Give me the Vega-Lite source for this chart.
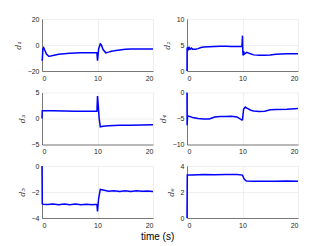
{
  "$schema": "https://vega.github.io/schema/vega-lite/v6.json",
  "padding": {"left": 14, "top": 15, "right": 3, "bottom": 5},
  "background": "white",
  "datasets": {
    "d": [
      {"s":1,"t":0,"v":-11},{"s":1,"t":0.05,"v":-12},{"s":1,"t":0.15,"v":-3},{"s":1,"t":0.3,"v":-2},{"s":1,"t":0.5,"v":-4},{"s":1,"t":0.8,"v":-7},{"s":1,"t":1.2,"v":-8.7},{"s":1,"t":1.6,"v":-8.5},{"s":1,"t":2,"v":-8},{"s":1,"t":3,"v":-7.2},{"s":1,"t":4,"v":-6.7},{"s":1,"t":5,"v":-6.3},{"s":1,"t":6,"v":-6.1},{"s":1,"t":7,"v":-6},{"s":1,"t":8,"v":-5.9},{"s":1,"t":9,"v":-5.9},{"s":1,"t":9.9,"v":-5.9},{"s":1,"t":10,"v":-12},{"s":1,"t":10.05,"v":-10},{"s":1,"t":10.2,"v":-3},{"s":1,"t":10.5,"v":0.8},{"s":1,"t":10.7,"v":0},{"s":1,"t":11,"v":-3.5},{"s":1,"t":11.5,"v":-6},{"s":1,"t":12,"v":-5.5},{"s":1,"t":12.5,"v":-4.8},{"s":1,"t":13,"v":-4.5},{"s":1,"t":14,"v":-3.8},{"s":1,"t":15,"v":-3.2},{"s":1,"t":16,"v":-3},{"s":1,"t":17,"v":-3},{"s":1,"t":18,"v":-3},{"s":1,"t":19,"v":-3},{"s":1,"t":20,"v":-3},
      {"s":2,"t":0,"v":0},{"s":2,"t":0.02,"v":4.5},{"s":2,"t":0.1,"v":3.8},{"s":2,"t":0.2,"v":4.6},{"s":2,"t":0.3,"v":4.0},{"s":2,"t":0.4,"v":4.5},{"s":2,"t":0.6,"v":4.2},{"s":2,"t":0.8,"v":4.4},{"s":2,"t":1,"v":4.2},{"s":2,"t":1.5,"v":4.2},{"s":2,"t":2,"v":4.3},{"s":2,"t":2.5,"v":4.5},{"s":2,"t":3,"v":4.6},{"s":2,"t":4,"v":4.65},{"s":2,"t":5,"v":4.7},{"s":2,"t":6,"v":4.75},{"s":2,"t":7,"v":4.75},{"s":2,"t":8,"v":4.7},{"s":2,"t":9,"v":4.7},{"s":2,"t":9.9,"v":4.7},{"s":2,"t":10,"v":6.8},{"s":2,"t":10.05,"v":4},{"s":2,"t":10.1,"v":3},{"s":2,"t":10.2,"v":3.8},{"s":2,"t":10.3,"v":3.2},{"s":2,"t":10.5,"v":3.4},{"s":2,"t":10.8,"v":3.6},{"s":2,"t":11.2,"v":3.4},{"s":2,"t":12,"v":3.1},{"s":2,"t":13,"v":3.05},{"s":2,"t":14,"v":3.05},{"s":2,"t":15,"v":3.1},{"s":2,"t":16,"v":3.2},{"s":2,"t":17,"v":3.25},{"s":2,"t":18,"v":3.3},{"s":2,"t":19,"v":3.3},{"s":2,"t":20,"v":3.3},
      {"s":3,"t":0,"v":0},{"s":3,"t":0.05,"v":1.5},{"s":3,"t":0.3,"v":1.5},{"s":3,"t":2,"v":1.5},{"s":3,"t":4,"v":1.45},{"s":3,"t":6,"v":1.4},{"s":3,"t":8,"v":1.4},{"s":3,"t":9.9,"v":1.4},{"s":3,"t":10,"v":4.3},{"s":3,"t":10.1,"v":3},{"s":3,"t":10.3,"v":0},{"s":3,"t":10.5,"v":-1.6},{"s":3,"t":11,"v":-1.5},{"s":3,"t":12,"v":-1.4},{"s":3,"t":14,"v":-1.3},{"s":3,"t":16,"v":-1.3},{"s":3,"t":18,"v":-1.25},{"s":3,"t":20,"v":-1.2},
      {"s":4,"t":0,"v":0},{"s":4,"t":0.02,"v":-6.3},{"s":4,"t":0.1,"v":-4.5},{"s":4,"t":0.5,"v":-4.6},{"s":4,"t":1,"v":-4.8},{"s":4,"t":2,"v":-5.0},{"s":4,"t":3,"v":-5.1},{"s":4,"t":4,"v":-5.1},{"s":4,"t":4.5,"v":-4.9},{"s":4,"t":5,"v":-4.7},{"s":4,"t":6,"v":-4.6},{"s":4,"t":7,"v":-4.6},{"s":4,"t":8,"v":-4.55},{"s":4,"t":9,"v":-4.7},{"s":4,"t":9.9,"v":-5.3},{"s":4,"t":10,"v":-5.2},{"s":4,"t":10.2,"v":-3.2},{"s":4,"t":10.5,"v":-2.8},{"s":4,"t":10.8,"v":-3.0},{"s":4,"t":11.5,"v":-3.4},{"s":4,"t":12,"v":-3.55},{"s":4,"t":13,"v":-3.65},{"s":4,"t":14,"v":-3.6},{"s":4,"t":15,"v":-3.3},{"s":4,"t":16,"v":-3.25},{"s":4,"t":18,"v":-3.2},{"s":4,"t":20,"v":-3.1},
      {"s":5,"t":0,"v":0},{"s":5,"t":0.05,"v":-2.9},{"s":5,"t":0.2,"v":-2.95},{"s":5,"t":1,"v":-2.97},{"s":5,"t":2,"v":-2.92},{"s":5,"t":3,"v":-2.98},{"s":5,"t":4,"v":-2.93},{"s":5,"t":5,"v":-2.98},{"s":5,"t":6,"v":-2.93},{"s":5,"t":7,"v":-2.98},{"s":5,"t":8,"v":-2.94},{"s":5,"t":9,"v":-2.98},{"s":5,"t":9.9,"v":-2.95},{"s":5,"t":10,"v":-3.5},{"s":5,"t":10.2,"v":-2.5},{"s":5,"t":10.5,"v":-1.8},{"s":5,"t":11,"v":-1.85},{"s":5,"t":12,"v":-1.95},{"s":5,"t":13,"v":-1.9},{"s":5,"t":14,"v":-1.97},{"s":5,"t":15,"v":-1.9},{"s":5,"t":16,"v":-1.97},{"s":5,"t":17,"v":-1.9},{"s":5,"t":18,"v":-1.95},{"s":5,"t":19,"v":-1.93},{"s":5,"t":20,"v":-1.97},
      {"s":6,"t":0,"v":0},{"s":6,"t":0.05,"v":3.3},{"s":6,"t":1,"v":3.3},{"s":6,"t":3,"v":3.35},{"s":6,"t":5,"v":3.33},{"s":6,"t":7,"v":3.35},{"s":6,"t":9,"v":3.35},{"s":6,"t":10,"v":3.3},{"s":6,"t":10.3,"v":3.0},{"s":6,"t":10.7,"v":2.85},{"s":6,"t":12,"v":2.82},{"s":6,"t":14,"v":2.83},{"s":6,"t":16,"v":2.82},{"s":6,"t":18,"v":2.85},{"s":6,"t":20,"v":2.83}
    ]
  },
  "data": {"name": "d"},
  "title": {"text": "time (s)", "orient": "bottom", "anchor": "middle", "fontSize": 10, "fontWeight": "normal", "font": "Liberation Sans", "color": "#000000", "offset": 4},
  "columns": 2,
  "bounds": "flush",
  "spacing": {"row": 21.5, "column": 34},
  "config": {
    "font": "Liberation Sans",
    "view": {"stroke": null},
    "axis": {
      "labelFontSize": 7, "labelColor": "#262626", "labelFont": "Liberation Sans",
      "domainColor": "#262626", "domainWidth": 0.6,
      "gridColor": "#e4e4e4", "gridWidth": 0.6,
      "ticks": false, "labelPadding": 3,
      "titleFontSize": 8, "titleFontStyle": "italic", "titleFontWeight": "normal",
      "titleColor": "#262626", "titlePadding": 5, "titleFont": "DejaVu Serif"
    },
    "line": {"color": "#0000ff", "strokeWidth": 1.5}
  },
  "concat": [
    {"width": 111, "height": 52, "transform": [{"filter": "datum.s == 1"}], "mark": {"type": "line"},
     "encoding": {"x": {"field": "t", "type": "quantitative", "scale": {"domain": [0, 20]}, "axis": {"values": [0, 10, 20], "title": null}},
                  "y": {"field": "v", "type": "quantitative", "scale": {"domain": [-20, 20]}, "axis": {"values": [-20, 0, 20], "title": "d₁"}}}},
    {"width": 111, "height": 52, "transform": [{"filter": "datum.s == 2"}], "mark": {"type": "line"},
     "encoding": {"x": {"field": "t", "type": "quantitative", "scale": {"domain": [0, 20]}, "axis": {"values": [0, 10, 20], "title": null}},
                  "y": {"field": "v", "type": "quantitative", "scale": {"domain": [0, 10]}, "axis": {"values": [0, 5, 10], "title": "d₂"}}}},
    {"width": 111, "height": 52, "transform": [{"filter": "datum.s == 3"}], "mark": {"type": "line"},
     "encoding": {"x": {"field": "t", "type": "quantitative", "scale": {"domain": [0, 20]}, "axis": {"values": [0, 10, 20], "title": null}},
                  "y": {"field": "v", "type": "quantitative", "scale": {"domain": [-5, 5]}, "axis": {"values": [-5, 0, 5], "title": "d₃"}}}},
    {"width": 111, "height": 52, "transform": [{"filter": "datum.s == 4"}], "mark": {"type": "line"},
     "encoding": {"x": {"field": "t", "type": "quantitative", "scale": {"domain": [0, 20]}, "axis": {"values": [0, 10, 20], "title": null}},
                  "y": {"field": "v", "type": "quantitative", "scale": {"domain": [-10, 0]}, "axis": {"values": [-10, -5, 0], "title": "d₄"}}}},
    {"width": 111, "height": 52, "transform": [{"filter": "datum.s == 5"}], "mark": {"type": "line"},
     "encoding": {"x": {"field": "t", "type": "quantitative", "scale": {"domain": [0, 20]}, "axis": {"values": [0, 10, 20], "title": null}},
                  "y": {"field": "v", "type": "quantitative", "scale": {"domain": [-4, 0]}, "axis": {"values": [-4, -2, 0], "title": "d₅"}}}},
    {"width": 111, "height": 52, "transform": [{"filter": "datum.s == 6"}], "mark": {"type": "line"},
     "encoding": {"x": {"field": "t", "type": "quantitative", "scale": {"domain": [0, 20]}, "axis": {"values": [0, 10, 20], "title": null}},
                  "y": {"field": "v", "type": "quantitative", "scale": {"domain": [0, 4]}, "axis": {"values": [0, 2, 4], "title": "d₆"}}}}
  ]
}
